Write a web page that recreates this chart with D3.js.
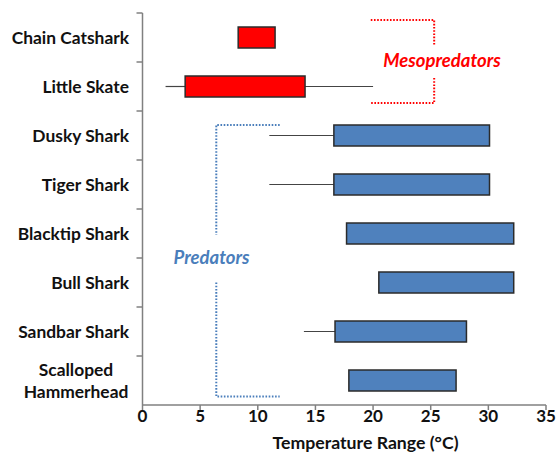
<!DOCTYPE html>
<html>
<head>
<meta charset="utf-8">
<script src="https://cdn.jsdelivr.net/npm/d3@7"></script>
<style>
  body { margin: 0; background: #fff; }
  svg { font-family: Lato, "Open Sans", sans-serif; }
</style>
</head>
<body>
<div id="chart"></div>
<script>
// species, top to bottom
var species = ['Chain Catshark', 'Little Skate', 'Dusky Shark', 'Tiger Shark',
               'Blacktip Shark', 'Bull Shark', 'Sandbar Shark', 'Scalloped Hammerhead']
var groups = ['meso', 'meso', 'pred', 'pred', 'pred', 'pred', 'pred', 'pred']
var barLow  = [8.3, 3.7, 16.6, 16.6, 17.7, 20.5, 16.7, 17.9]
var barHigh = [11.5, 14.1, 30.1, 30.1, 32.2, 32.2, 28.1, 27.2]
var whiskLow  = [null, 2.0, 11.0, 11.0, null, null, 14.0, null]
var whiskHigh = [null, 20.0, null, null, null, null, null, null]
var xTicks = [0, 5, 10, 15, 20, 25, 30, 35]

var data = species.map(function (d, i) {
    return { name: d, group: groups[i], lo: barLow[i], hi: barHigh[i], wlo: whiskLow[i], whi: whiskHigh[i] }
})

var W = 556, H = 458
var plotL = 142.5, plotR = 546, plotT = 13, plotB = 405

var svg = d3.select("#chart").append("svg")
    .attr("width", W).attr("height", H)

var x = d3.scaleLinear().domain([0, 35]).range([plotL, plotR])
var y = d3.scaleBand().domain(species).range([plotT, plotB])
var bw = y.bandwidth()
var barH = 21

var colors = { meso: '#ff0000', pred: '#4f81bd' }

// whiskers
data.forEach(function (d) {
    var cy = y(d.name) + bw / 2
    if (d.wlo != null) {
        svg.append("line").attr("x1", x(d.wlo)).attr("x2", x(d.lo))
            .attr("y1", cy).attr("y2", cy)
            .attr("stroke", "#444").attr("stroke-width", 1.2)
    }
    if (d.whi != null) {
        svg.append("line").attr("x1", x(d.hi)).attr("x2", x(d.whi))
            .attr("y1", cy).attr("y2", cy)
            .attr("stroke", "#444").attr("stroke-width", 1.2)
    }
})

// bars
svg.selectAll("rect.bar")
    .data(data)
    .enter()
    .append("rect")
        .attr("class", "bar")
        .attr("x", d => x(d.lo))
        .attr("y", d => y(d.name) + bw / 2 - barH / 2)
        .attr("width", d => x(d.hi) - x(d.lo))
        .attr("height", barH)
        .attr("fill", d => colors[d.group])
        .attr("stroke", "#2b2b2b")
        .attr("stroke-width", 1.5)

// axes
var axisColor = '#808080'
svg.append("line").attr("x1", plotL).attr("x2", plotL).attr("y1", plotT).attr("y2", plotB)
    .attr("stroke", axisColor).attr("stroke-width", 1.5)
svg.append("line").attr("x1", plotL).attr("x2", plotR).attr("y1", plotB).attr("y2", plotB)
    .attr("stroke", axisColor).attr("stroke-width", 1.5)

// y tick marks at band boundaries
var yBounds = species.map(d => y(d))
svg.selectAll("line.ytick")
    .data(yBounds)
    .enter()
    .append("line")
        .attr("x1", plotL - 6).attr("x2", plotL)
        .attr("y1", d => d).attr("y2", d => d)
        .attr("stroke", axisColor).attr("stroke-width", 1.5)

svg.selectAll("line.xtick")
    .data(xTicks)
    .enter()
    .append("line")
        .attr("x1", d => x(d)).attr("x2", d => x(d))
        .attr("y1", plotB).attr("y2", plotB + 5)
        .attr("stroke", axisColor).attr("stroke-width", 1.5)

svg.selectAll("text.xlab")
    .data(xTicks)
    .enter()
    .append("text")
        .attr("x", d => x(d))
        .attr("y", 422)
        .attr("text-anchor", "middle")
        .style("font-size", "17px")
        .style("font-weight", "bold")
        .attr("fill", "#111")
        .text(d => d)

svg.append("text")
    .attr("x", 365.5).attr("y", 449)
    .attr("text-anchor", "middle")
    .style("font-size", "17.7px")
    .style("font-weight", "bold")
    .attr("fill", "#111")
    .text("Temperature Range (°C)")

// category labels
data.forEach(function (d) {
    var cy = y(d.name) + bw / 2
    if (d.name == 'Scalloped Hammerhead') {
        var t = svg.append("text").attr("text-anchor", "middle")
            .style("font-size", "17.4px").style("font-weight", "bold").attr("fill", "#111")
        t.append("tspan").attr("x", 76).attr("y", cy - 4.5).text("Scalloped")
        t.append("tspan").attr("x", 76).attr("y", cy + 17.5).text("Hammerhead")
    } else {
        svg.append("text")
            .attr("x", plotL - 13.5).attr("y", cy + 6.5)
            .attr("text-anchor", "end")
            .style("font-size", "17.4px").style("font-weight", "bold").attr("fill", "#111")
            .text(d.name)
    }
})

// group brackets
function bracket(x0, x1, yTop, yGap0, yGap1, yBot, color) {
    var path = d3.path()
    path.moveTo(x0, yTop); path.lineTo(x1, yTop); path.lineTo(x1, yGap0)
    path.moveTo(x1, yGap1); path.lineTo(x1, yBot); path.lineTo(x0, yBot)
    svg.append("path").attr("d", path.toString())
        .attr("fill", "none").attr("stroke", color)
        .attr("stroke-width", 2).attr("stroke-dasharray", "1.6,1.6")
}

// mesopredators: opens to the left
bracket(x(19.8), x(25.3), y('Chain Catshark') + 7, y('Chain Catshark') + 32,
        y('Little Skate') + 16, y('Little Skate') + bw - 8, '#ff0000')
svg.append("text")
    .attr("x", 442).attr("y", y('Little Skate') + 5)
    .attr("text-anchor", "middle")
    .style("font-size", "18.5px").style("font-weight", "bold").style("font-style", "italic")
    .attr("fill", "#ff0000")
    .text("Mesopredators")

// predators: opens to the right
bracket(x(11.9), x(6.4), y('Dusky Shark') + 14, y('Blacktip Shark') + 26,
        y('Bull Shark') + 24.5, plotB - 8.5, '#4a7ebb')
svg.append("text")
    .attr("x", 211.5).attr("y", y('Bull Shark') + 6)
    .attr("text-anchor", "middle")
    .style("font-size", "18.5px").style("font-weight", "bold").style("font-style", "italic")
    .attr("fill", "#4a7ebb")
    .text("Predators")
</script>
</body>
</html>
